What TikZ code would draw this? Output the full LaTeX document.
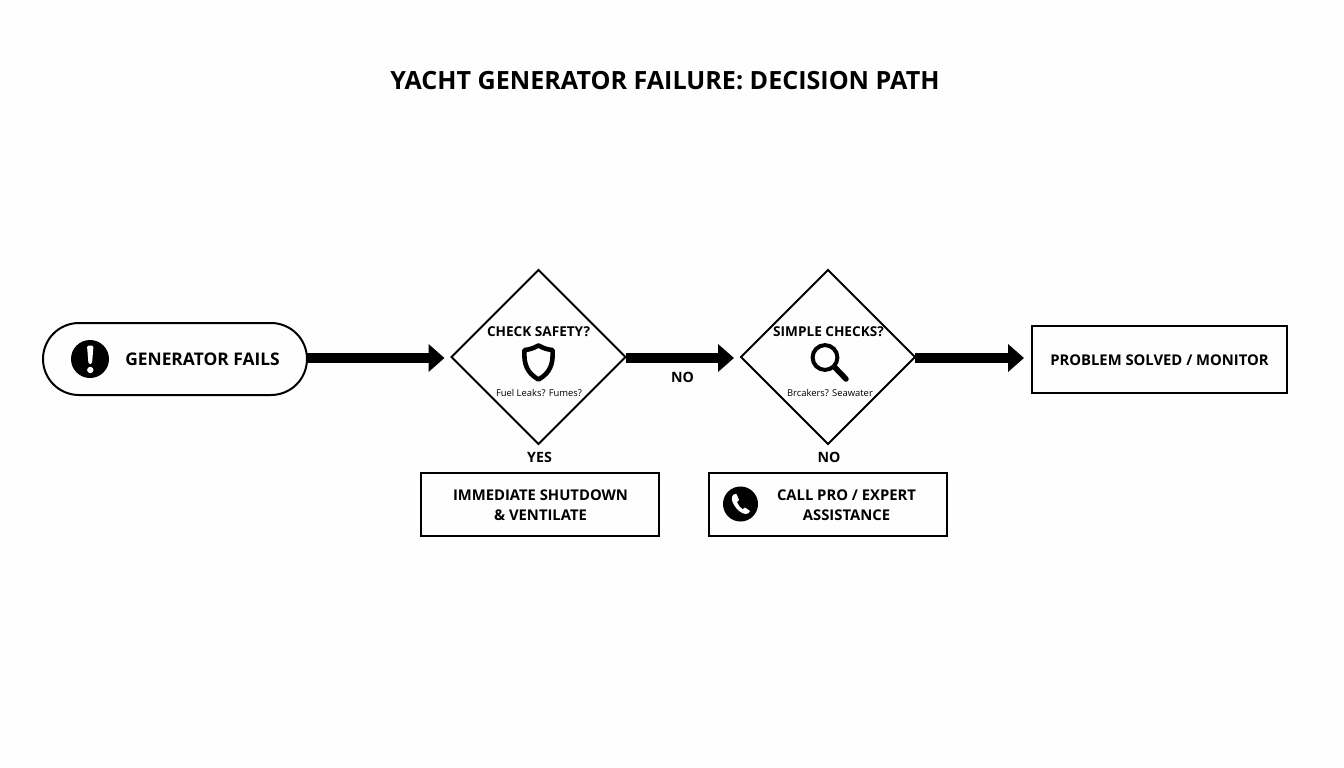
\documentclass[tikz,border=0pt]{standalone}
\usepackage{fontspec}
\setmainfont{Open Sans}
\usetikzlibrary{shapes.geometric,arrows.meta}
\newcommand{\pxfont}[2]{\fontsize{#1}{#2}\selectfont}
\tikzset{
  every node/.style={inner sep=0pt,outer sep=0pt,align=center,text=black},
  pill/.style={draw,line width=2pt,rounded corners=36pt,minimum width=264pt,minimum height=72pt},
  decision/.style={draw,diamond,line width=1.9pt,minimum width=174pt,minimum height=174pt,aspect=1},
  boxnode/.style={draw,rectangle,line width=2pt},
  qtext/.style={font=\pxfont{13.6}{17}\bfseries},
  answer/.style={font=\pxfont{14.2}{18}\bfseries},
  boxtext/.style={font=\pxfont{14.8}{20.5}\bfseries},
  small/.style={font=\pxfont{9.4}{12}},
  flow/.style={line width=10pt,-{Triangle[length=16pt,width=27pt]}},
  iconline/.style={line width=4.5pt,black}
}
\begin{document}
\begin{tikzpicture}[x=1pt,y=-1pt]
\useasboundingbox (0,0) rectangle (1344,768);
\fill[white!99.5!black] (0,0) rectangle (1344,768);
\node (title) at (665,81) {\pxfont{25.1}{28}\bfseries YACHT GENERATOR FAILURE: DECISION PATH};
\node[pill] (start) at (175,359) {};
\node[boxtext,font=\pxfont{17.4}{20}\bfseries] (starttext) at (202.5,359.5) {GENERATOR FAILS};
\node[circle,fill=black,minimum size=38pt] (alert) at (90,359) {};
\fill[white,rounded corners=1.5pt] (87,345.5) -- (93.5,345.5) -- (92,364) -- (88.5,364) -- cycle;
\fill[white] (90.3,370) circle (3.2);
\node[decision] (d1) at (538.5,357) {};
\node[decision] (d2) at (828,357) {};
\node[boxnode,minimum width=238pt,minimum height=63pt] (shutdown) at (539.5,504.5) {};
\node[boxnode,minimum width=238pt,minimum height=63pt] (callpro) at (828,504.5) {};
\node[boxnode,minimum width=255pt,minimum height=67pt] (solved) at (1159.5,359.5) {};
\node[boxtext] (solvedtext) at (1159.5,360) {PROBLEM SOLVED / MONITOR};
\node[boxtext] (shuttext) at (540.5,505) {IMMEDIATE SHUTDOWN\\\& VENTILATE};
\node[boxtext] (calltext) at (846.5,505) {CALL PRO / EXPERT\\ASSISTANCE};
\node[qtext] (q1) at (538.5,331.5) {CHECK SAFETY?};
\node[qtext] (q2) at (828.5,331.5) {SIMPLE CHECKS?};
\node[small] (s1) at (539,392.5) {Fuel Leaks? Fumes?};
\node[small] (s2) at (830,392.5) {Brcakers? Seawater};
\node[answer] (yes) at (539.5,457.5) {YES};
\node[answer] (no1) at (682.5,377.5) {NO};
\node[answer] (no2) at (829,457.5) {NO};
% shield
\draw[iconline,line width=4.6pt,line join=round] (538.5,345.5) .. controls (532,349) and (529,349.5) .. (524.5,350)
  .. controls (523.5,364) and (527,373) .. (538.5,379.5)
  .. controls (550,373) and (553.5,364) .. (552.5,350)
  .. controls (548,349.5) and (545,349) .. (538.5,345.5) -- cycle;
% magnifier
\draw[iconline,line width=4pt] (825,357.5) circle (12.4);
\draw[black,line width=5.5pt,line cap=round] (834.5,367) -- (846,379);
% phone
\node[circle,fill=black,minimum size=35pt] (phone) at (740.5,504) {};
\fill[white] (733.5,494.5) .. controls (731,497) and (731.5,501) .. (734,505)
  .. controls (737,510) and (742,514) .. (746,514)
  .. controls (748,514) and (749.5,512.5) .. (750,511)
  -- (745,507.5) -- (742.7,509.3)
  .. controls (740,507.5) and (738,505) .. (737,502)
  -- (739,500) -- (736.5,494) -- cycle;
% connectors
\draw[flow,shorten >=7pt] ([yshift=-1pt]start.east |- d1.west) -- ([yshift=-1pt]d1.west);
\draw[flow,shorten >=7pt] ([yshift=-1pt]d1.east) -- ([yshift=-1pt]d2.west);
\draw[flow,shorten >=8pt] ([yshift=-1pt]d2.east) -- ([yshift=-1pt]solved.west |- d2.east);
\end{tikzpicture}
\end{document}
